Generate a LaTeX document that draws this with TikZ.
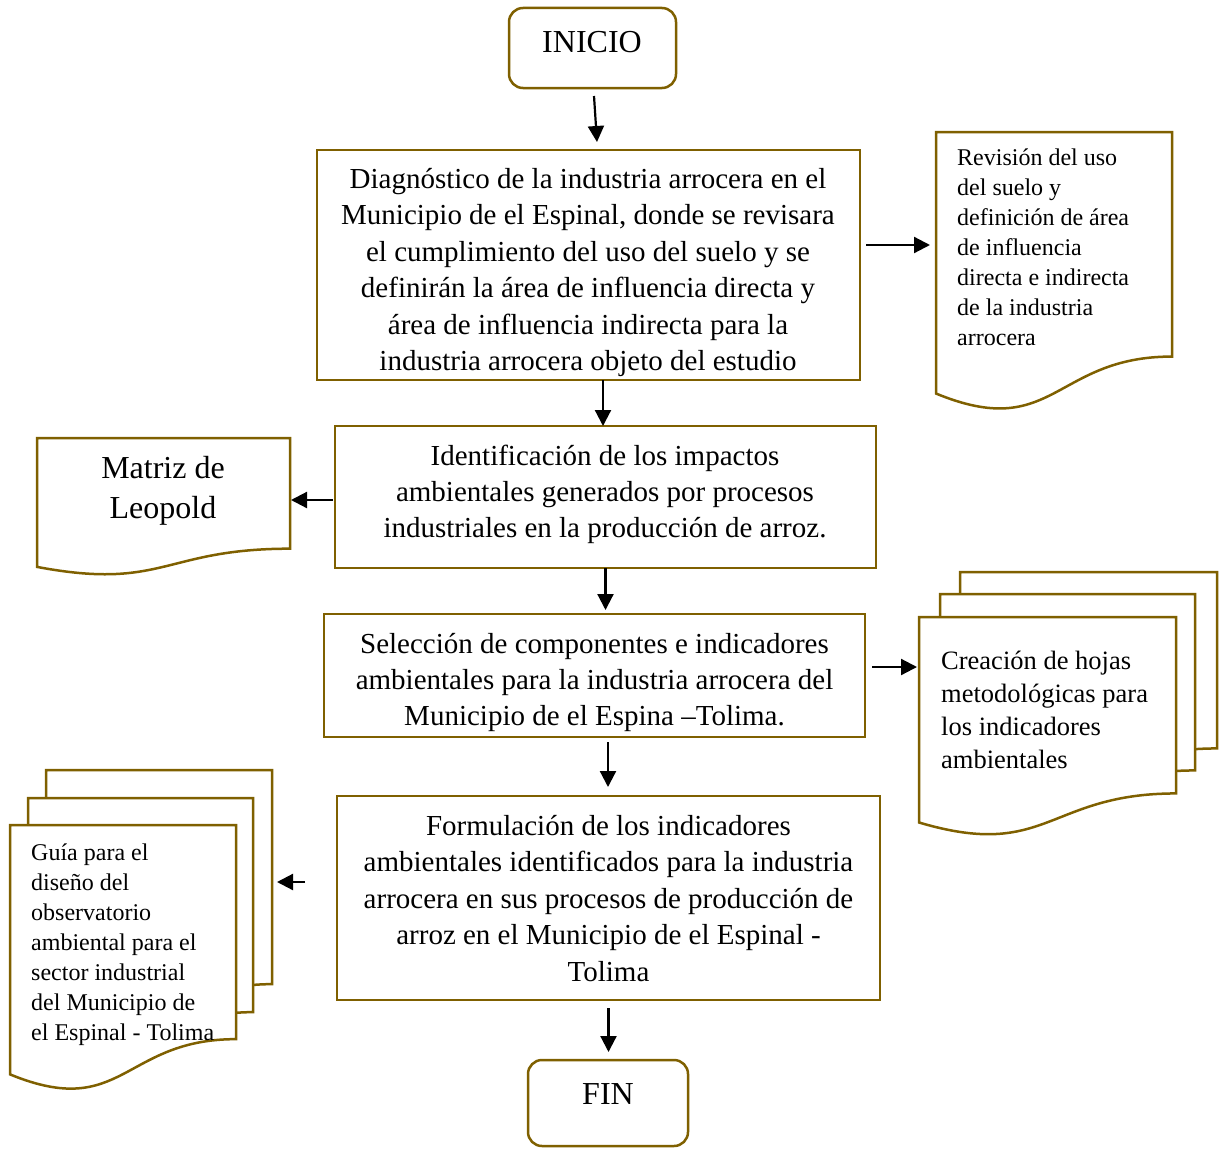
\documentclass[tikz,border=0pt]{standalone}
\usepackage{fontspec}
\setmainfont{Liberation Serif}
\usetikzlibrary{arrows.meta,calc}
\definecolor{gold}{RGB}{127,96,0}
\tikzset{
  box/.style={draw=gold, line width=2.5pt, fill=white, inner sep=0pt, outer sep=0pt},
  rbox/.style={box, rounded corners=14pt},
  arr/.style={draw=black, line width=2.2pt, -{Triangle[length=16pt,width=16pt]}},
  doc/.style={draw=gold, line width=2.5pt, fill=white, line join=miter},
  anchornode/.style={inner sep=0pt, outer sep=0pt, anchor=north west},
  txt/.style={inner sep=0pt, align=center},
  ltxt/.style={inner sep=0pt, align=left, anchor=west},
}
% name, x, y, w, h  (pixel coordinates, y downward)
\newcommand\DocShape[5]{%
  \path[doc] (#2,#3) -- ({#2+#4},#3) -- ({#2+#4},{#3+0.802*#5})
    .. controls ({#2+#4/2},{#3+0.802*#5}) and ({#2+#4/2},{#3+1.1075*#5}) .. (#2,{#3+0.934*#5}) -- cycle;
  \node[anchornode, minimum width=#4pt, minimum height=#5pt] (#1) at (#2,#3) {};%
}
\newcommand\ClipBox[1]{\clip ([shift={(1.25pt,1.25pt)}]#1.south west) rectangle ([shift={(-1.25pt,-1.25pt)}]#1.north east);}
\begin{document}
\begin{tikzpicture}[x=1pt,y=-1pt]
\useasboundingbox (0,0) rectangle (1220,1148);

% INICIO
\node[rbox, minimum width=167pt, minimum height=80pt] (inicio) at (592.5,48) {};
\node[txt, font=\fontsize{32pt}{40pt}\selectfont] (tinicio) at (592,42) {INICIO};

% Diagnostico
\node[box, minimum width=543pt, minimum height=230pt] (diag) at (588.5,265) {};
\begin{scope}
\ClipBox{diag}
\node[txt, font=\fontsize{29pt}{36.5pt}\selectfont] (tdiag) at (588,272.5) {Diagnóstico de la industria arrocera en el\\Municipio de el Espinal, donde se revisara\\el cumplimiento del uso del suelo y se\\definirán la área de influencia directa y\\área de influencia indirecta para la\\industria arrocera objeto del estudio};
\end{scope}

% Revision document
\DocShape{rev}{936}{132}{236}{280}
\node[ltxt, font=\fontsize{24pt}{30pt}\selectfont] (trev) at (957,247) {Revisión del uso\\del suelo y\\definición de área\\de influencia\\directa e indirecta\\de la industria\\arrocera};

% Identificacion
\node[box, minimum width=541pt, minimum height=142pt] (ident) at (605.5,497) {};
\begin{scope}
\ClipBox{ident}
\node[txt, font=\fontsize{29pt}{36pt}\selectfont] (tident) at (605,494) {Identificación de los impactos\\ambientales generados por procesos\\industriales en la producción de arroz.};
\end{scope}

% Matriz de Leopold
\DocShape{matriz}{37}{438}{253}{138}
\node[txt, font=\fontsize{32pt}{40pt}\selectfont] (tmatriz) at (163,491) {Matriz de\\Leopold};

% Seleccion
\node[box, minimum width=541pt, minimum height=123pt] (sel) at (594.5,675.5) {};
\begin{scope}
\ClipBox{sel}
\node[txt, font=\fontsize{29pt}{36pt}\selectfont] (tsel) at (594.5,682) {Selección de componentes e indicadores\\ambientales para la industria arrocera del\\Municipio de el Espina –Tolima.};
\end{scope}

% Creacion multidocument
\DocShape{creC}{960}{572}{257}{220}
\DocShape{creB}{940}{594}{255}{220}
\DocShape{cre}{919}{617}{257}{220}
\node[ltxt, font=\fontsize{26.5pt}{33pt}\selectfont] (tcre) at (941,710) {Creación de hojas\\metodológicas para\\los indicadores\\ambientales};

% Formulacion
\node[box, minimum width=543pt, minimum height=204pt] (form) at (608.5,898) {};
\begin{scope}
\ClipBox{form}
\node[txt, font=\fontsize{29pt}{36.5pt}\selectfont] (tform) at (608.5,898.5) {Formulación de los indicadores\\ambientales identificados para la industria\\arrocera en sus procesos de producción de\\arroz en el Municipio de el Espinal -\\Tolima};
\end{scope}

% Guia multidocument
\DocShape{guiaC}{46}{770}{226}{267}
\DocShape{guiaB}{28}{798}{225}{267}
\DocShape{guia}{10}{825}{226}{267}
\node[ltxt, font=\fontsize{24pt}{30pt}\selectfont] (tguia) at (31,944.5) {Guía para el\\diseño del\\observatorio\\ambiental para el\\sector industrial\\del Municipio de\\el Espinal - Tolima};

% FIN
\node[rbox, minimum width=160pt, minimum height=86pt] (fin) at (608,1103) {};
\node[txt, font=\fontsize{32pt}{40pt}\selectfont] (tfin) at (608,1094) {FIN};

% Connectors
\draw[arr] ([xshift=1.5pt,yshift=-8pt]inicio.south) -- ([xshift=8.5pt,yshift=8pt]diag.north);
\draw[arr, shorten >=6pt] ([xshift=6pt,yshift=20pt]diag.east) -- ([yshift=20pt]diag.east -| rev.west);
\draw[arr] ([xshift=14.5pt]diag.south) -- ([xshift=14.5pt]diag.south |- ident.north);
\draw[arr, shorten >=1pt] ([xshift=-2pt,yshift=-3pt]ident.west) -- ([yshift=-3pt]ident.west -| matriz.east);
\draw[arr, shorten >=4pt] (ident.south) -- (ident.south |- sel.north);
\draw[arr, shorten >=2pt] ([xshift=7pt,yshift=8.5pt]sel.east) -- ([yshift=8.5pt]sel.east -| cre.west);
\draw[arr, shorten >=9pt] ([xshift=13.5pt,yshift=-5pt]sel.south) -- ([xshift=13.5pt]sel.south |- form.north);
\draw[arr, shorten >=5pt] ([xshift=-32pt,yshift=16pt]form.west) -- ([yshift=16pt]form.west -| guiaC.east);
\draw[arr, shorten >=8pt] ([yshift=-8pt]form.south) -- (form.south |- fin.north);
\end{tikzpicture}
\end{document}
